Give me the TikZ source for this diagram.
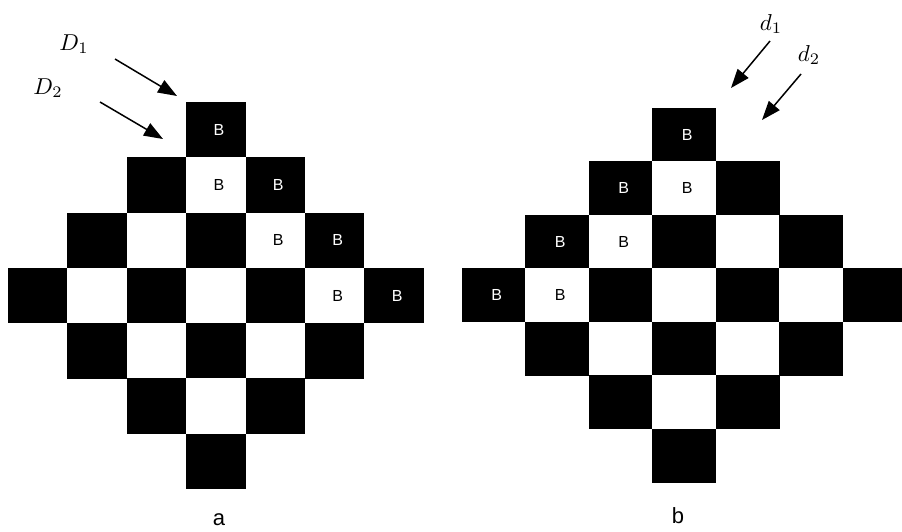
\documentclass[tikz,border=0pt]{standalone}
\usepackage{fontspec}
\newfontfamily\arialf{Liberation Sans}
\usetikzlibrary{arrows.meta}
\tikzset{
  cellbox/.style={inner sep=0pt, outer sep=0pt, draw=none},
  btxt/.style={font=\arialf\fontsize{16}{16}\selectfont, inner sep=0pt, xshift=3pt},
  dlabel/.style={inner sep=0pt},
  caption/.style={font=\arialf\fontsize{22}{22}\selectfont, inner sep=0pt},
  arr/.style={line width=1.5pt, -{Triangle[length=19pt,width=14pt]}}
}
\newcommand{\biglab}[1]{\scalebox{2.3}{$#1$}}
\begin{document}
\begin{tikzpicture}[x=1pt,y=-1pt]
\useasboundingbox (0,0) rectangle (902,531);
\clip (0,0) rectangle (902,531);
% left diamond
\foreach \r/\cs/\ce in {0/3/3,1/2/4,2/1/5,3/0/6,4/1/5,5/2/4,6/3/3}{
  \foreach \c in {\cs,...,\ce}{
    \pgfmathtruncatemacro\parity{mod(\r+\c,2)}
    \ifnum\parity=1 \def\fc{black}\else\def\fc{white}\fi
    \node[cellbox, fill=\fc, minimum width=59.5pt, minimum height=55.4pt]
      (L-\r-\c) at ({8+59.4*(\c+0.5)},{102+55.3*(\r+0.5)}) {};
  }
}
% right diamond
\foreach \r/\cs/\ce in {0/3/3,1/2/4,2/1/5,3/0/6,4/1/5,5/2/4,6/3/3}{
  \foreach \c in {\cs,...,\ce}{
    \pgfmathtruncatemacro\parity{mod(\r+\c,2)}
    \ifnum\parity=1 \def\fc{black}\else\def\fc{white}\fi
    \node[cellbox, fill=\fc, minimum width=63.6pt, minimum height=53.6pt]
      (R-\r-\c) at ({462+63.5*(\c+0.5)},{108+53.5*(\r+0.5)}) {};
  }
}
% B labels left
\node[btxt, text=white] (LB03) at (L-0-3) {B};
\node[btxt, text=black] (LB13) at (L-1-3) {B};
\node[btxt, text=white] (LB14) at (L-1-4) {B};
\node[btxt, text=black] (LB24) at (L-2-4) {B};
\node[btxt, text=white] (LB25) at (L-2-5) {B};
\node[btxt, text=black] (LB35) at (L-3-5) {B};
\node[btxt, text=white] (LB36) at (L-3-6) {B};
% B labels right
\node[btxt, text=white] (RB03) at (R-0-3) {B};
\node[btxt, text=white] (RB12) at (R-1-2) {B};
\node[btxt, text=black] (RB13) at (R-1-3) {B};
\node[btxt, text=white] (RB21) at (R-2-1) {B};
\node[btxt, text=black] (RB22) at (R-2-2) {B};
\node[btxt, text=white] (RB30) at (R-3-0) {B};
\node[btxt, text=black] (RB31) at (R-3-1) {B};
% arrows and labels left
\node[dlabel] (D1) at (74,44) {\biglab{D_1}};
\node[dlabel] (D2) at (48,88) {\biglab{D_2}};
\coordinate (D1s) at (115,59);
\coordinate (D1e) at (177,96);
\coordinate (D2s) at (100,102);
\coordinate (D2e) at (163,139);
\draw[arr] (D1s) -- (D1e);
\draw[arr] (D2s) -- (D2e);
% arrows and labels right
\node[dlabel] (d1) at (771,24) {\biglab{d_1}};
\node[dlabel] (d2) at (809,55) {\biglab{d_2}};
\coordinate (d1s) at (770,41);
\coordinate (d1e) at (731,88);
\coordinate (d2s) at (801,74);
\coordinate (d2e) at (762,120);
\draw[arr] (d1s) -- (d1e);
\draw[arr] (d2s) -- (d2e);
% captions
\node[caption] (capa) at (219,520) {a};
\node[caption] (capb) at (678,516) {b};
\end{tikzpicture}
\end{document}
